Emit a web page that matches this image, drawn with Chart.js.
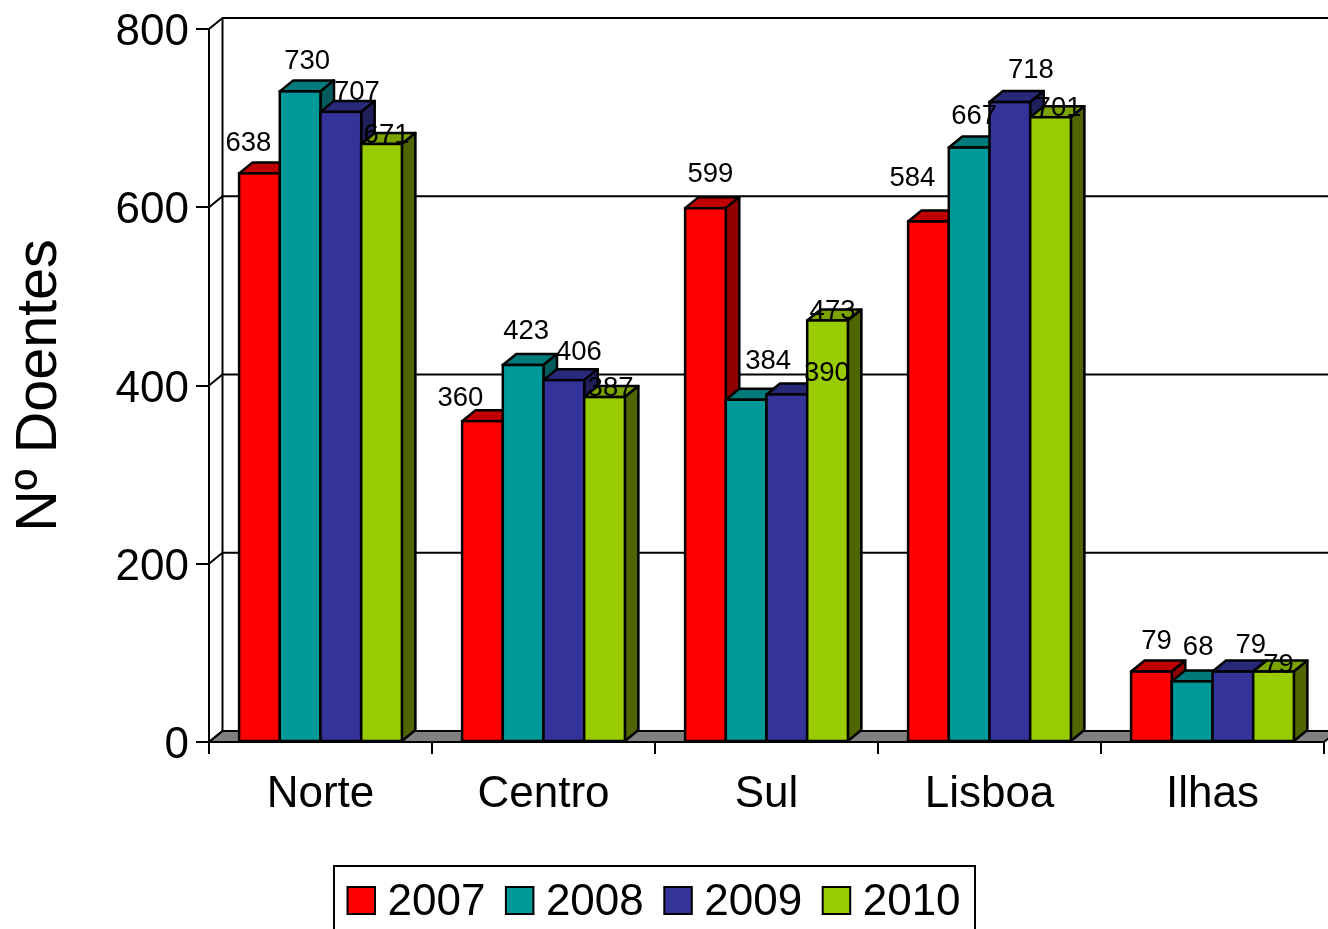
<!DOCTYPE html>
<html>
<head>
<meta charset="utf-8">
<title>Nº Doentes</title>
<style>
    html, body { margin: 0; padding: 0; background: #fff; overflow: hidden; }
    canvas { display: block; }
</style>
<script src="https://cdn.jsdelivr.net/npm/chart.js@4/dist/chart.umd.min.js"></script>
</head>
<body>
<canvas id="chart" width="1328" height="929"></canvas>
<script>
const categories = ['Norte', 'Centro', 'Sul', 'Lisboa', 'Ilhas'];
const yearLabels = ['2007', '2008', '2009', '2010'];
const values2007 = [638, 360, 599, 584, 79];
const values2008 = [730, 423, 384, 667, 68];
const values2009 = [707, 406, 390, 718, 79];
const values2010 = [671, 387, 473, 701, 79];
const yTicks = [0, 200, 400, 600, 800];

// colours per year: front, top face, side face
const frontColors = ['#ff0000', '#009999', '#333399', '#99cc00'];
const topColors = ['#c00000', '#007a7a', '#29297a', '#7aa300'];
const sideColors = ['#900000', '#005c5c', '#1f1f5c', '#4f6600'];

// hand nudges for the value labels, from the bar's top centre [dx, dy]
const labelNudges2007 = [[-11, -30], [-22, -23], [5, -34], [-16, -43], [5, -30]];
const labelNudges2008 = [[7, -30], [3, -34], [22, -38], [5, -31], [6, -34]];
const labelNudges2009 = [[16, -19], [15, -28], [40, -21], [21, -32], [18, -26]];
const labelNudges2010 = [[5, -9], [6, -9], [5, -9], [8, -9], [5, -6]];
const labelNudges = [labelNudges2007, labelNudges2008, labelNudges2009, labelNudges2010];

const FONT = '"Liberation Sans", Arial, sans-serif';
const DEPTH_X = 13.5;
const DEPTH_Y = -11;

function polygon(ctx, points, fill) {
    ctx.beginPath();
    points.forEach(([x, y], i) => (i ? ctx.lineTo(x, y) : ctx.moveTo(x, y)));
    ctx.closePath();
    if (fill) {
        ctx.fillStyle = fill;
        ctx.fill();
    }
    ctx.stroke();
}

function drawBarFaces(chart, meta, i) {
    const { ctx } = chart;
    ctx.save();
    ctx.strokeStyle = '#000';
    ctx.lineWidth = 2.5;
    ctx.lineJoin = 'round';
    meta.data.forEach(bar => {
        const { x, y, base, width } = bar.getProps(['x', 'y', 'base', 'width'], true);
        const left = x - width / 2;
        const right = x + width / 2;
        polygon(ctx, [
            [left, y], [left + DEPTH_X, y + DEPTH_Y],
            [right + DEPTH_X, y + DEPTH_Y], [right, y]
        ], topColors[i]);
        polygon(ctx, [
            [right, y], [right + DEPTH_X, y + DEPTH_Y],
            [right + DEPTH_X, base + DEPTH_Y], [right, base]
        ], sideColors[i]);
    });
    ctx.restore();
}

// Chart.js insets bar borders, which doubles the line between touching bars,
// so the outline is stroked on the bar's own edge here
function drawBarOutlines(chart, meta) {
    const { ctx } = chart;
    ctx.save();
    ctx.strokeStyle = '#000';
    ctx.lineWidth = 2.5;
    meta.data.forEach(bar => {
        const { x, y, base, width } = bar.getProps(['x', 'y', 'base', 'width'], true);
        ctx.strokeRect(x - width / 2, y, width, base - y);
    });
    ctx.restore();
}

const wallsPlugin = {
    id: 'walls',
    beforeDatasetsDraw(chart) {
        const { ctx, chartArea: area, scales: { y } } = chart;
        const base = y.getPixelForValue(0);
        ctx.save();
        ctx.strokeStyle = '#000';
        ctx.lineWidth = 2;
        // floor
        polygon(ctx, [
            [area.left, base], [area.left + DEPTH_X, base + DEPTH_Y],
            [area.right + DEPTH_X, base + DEPTH_Y], [area.right, base]
        ], '#808080');
        // back wall lines and the diagonals from each front tick
        yTicks.forEach(value => {
            const py = y.getPixelForValue(value);
            ctx.beginPath();
            ctx.moveTo(area.left, py);
            ctx.lineTo(area.left + DEPTH_X, py + DEPTH_Y);
            ctx.lineTo(area.right + DEPTH_X, py + DEPTH_Y);
            ctx.stroke();
        });
        ctx.beginPath();
        ctx.moveTo(area.left + DEPTH_X, area.top + DEPTH_Y);
        ctx.lineTo(area.left + DEPTH_X, base + DEPTH_Y);
        ctx.stroke();
        ctx.restore();
    },
    // Chart.js paints the last dataset first; here 2007 has to go first so the
    // later bars sit over its side face, so the datasets are drawn below instead
    beforeDatasetDraw() {
        return false;
    },
    afterDatasetsDraw(chart) {
        const { ctx } = chart;
        chart.data.datasets.forEach((dataset, i) => {
            const meta = chart.getDatasetMeta(i);
            drawBarFaces(chart, meta, i);
            meta.controller.draw();
            drawBarOutlines(chart, meta);
        });
        ctx.save();
        ctx.fillStyle = '#000';
        ctx.font = '27.5px ' + FONT;
        ctx.textAlign = 'center';
        ctx.textBaseline = 'middle';
        chart.data.datasets.forEach((dataset, i) => {
            chart.getDatasetMeta(i).data.forEach((bar, j) => {
                const [dx, dy] = labelNudges[i][j];
                ctx.fillText(String(dataset.data[j]), bar.x + dx, bar.y + dy);
            });
        });
        ctx.restore();
    },
    afterDraw(chart) {
        const { ctx } = chart;
        const left = 334, top = 866, right = 975;
        ctx.save();
        ctx.strokeStyle = '#000';
        ctx.lineWidth = 2;
        ctx.beginPath();
        ctx.moveTo(left, chart.height + 2);
        ctx.lineTo(left, top);
        ctx.lineTo(right, top);
        ctx.lineTo(right, chart.height + 2);
        ctx.stroke();
        ctx.font = '44px ' + FONT;
        ctx.textAlign = 'left';
        ctx.textBaseline = 'middle';
        yearLabels.forEach((label, i) => {
            const x = 347.5 + i * 158.4;
            ctx.fillStyle = frontColors[i];
            ctx.fillRect(x, 887, 27.5, 27);
            ctx.strokeRect(x, 887, 27.5, 27);
            ctx.fillStyle = '#000';
            ctx.fillText(label, x + 40, 903);
        });
        ctx.restore();
    }
};

function buildDatasets() {
    const series = [values2007, values2008, values2009, values2010];
    return series.map((data, i) => ({
        label: yearLabels[i],
        data: data,
        backgroundColor: frontColors[i],
        borderWidth: 0,
        categoryPercentage: 0.73,
        barPercentage: 1
    }));
}

new Chart(document.getElementById('chart'), {
    type: 'bar',
    data: { labels: categories, datasets: buildDatasets() },
    plugins: [wallsPlugin],
    options: {
        responsive: false,
        animation: false,
        layout: { padding: { top: 29, right: 4, left: 0, bottom: 0 } },
        plugins: {
            legend: { display: false },
            tooltip: { enabled: false }
        },
        scales: {
            x: {
                afterFit(scale) { scale.height = 187; },
                grid: {
                    offset: true,
                    drawOnChartArea: false,
                    color: '#000',
                    lineWidth: 2,
                    tickLength: 12
                },
                border: { color: '#000', width: 2 },
                ticks: {
                    color: '#000',
                    padding: 14,
                    maxRotation: 0,
                    font: { family: FONT, size: 44 }
                }
            },
            y: {
                min: 0,
                max: 800,
                afterFit(scale) {
                    scale.width = 209;
                    // the big tick labels would otherwise push the plot down
                    scale.paddingTop = 0;
                    scale.paddingBottom = 0;
                },
                grid: {
                    drawOnChartArea: false,
                    color: '#000',
                    lineWidth: 2,
                    tickLength: 13
                },
                border: { color: '#000', width: 2 },
                title: {
                    display: true,
                    text: 'Nº Doentes',
                    color: '#000',
                    padding: { top: 6, bottom: 0 },
                    font: { family: FONT, size: 57.5 }
                },
                ticks: {
                    stepSize: 200,
                    color: '#000',
                    padding: 7,
                    labelOffset: 4,
                    font: { family: FONT, size: 44 }
                }
            }
        }
    }
});
</script>
</body>
</html>
